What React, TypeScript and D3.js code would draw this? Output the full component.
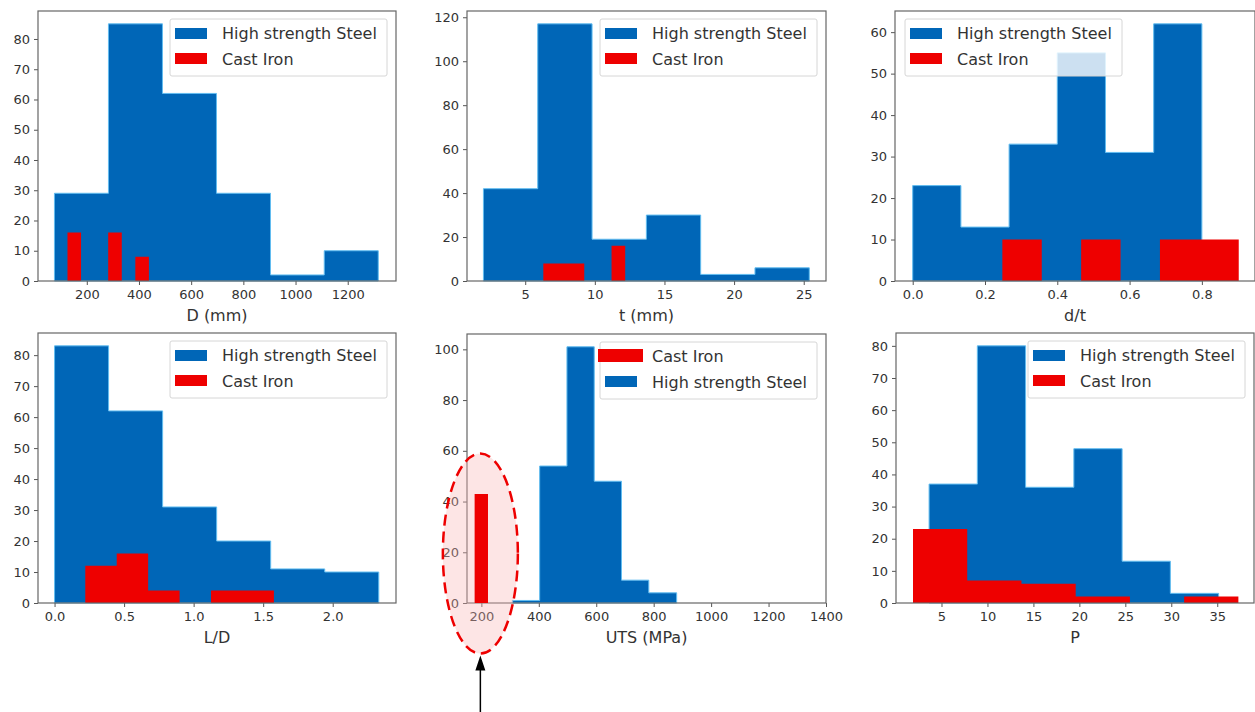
import React, { useEffect, useRef } from "react";
import * as d3 from "d3";

// D (mm)
const dSteelEdges = [76, 283, 490, 697, 904, 1110, 1317];
const dSteelCounts = [29, 85, 62, 29, 2, 10];
const dIronEdges = [126, 178, 230, 282, 334, 386, 438];
const dIronCounts = [16, 0, 0, 16, 0, 8];
const dXTicks = [200, 400, 600, 800, 1000, 1200];
const dYTicks = [0, 10, 20, 30, 40, 50, 60, 70, 80];

// t (mm)
const tSteelEdges = [2.0, 5.9, 9.8, 13.7, 17.6, 21.5, 25.4];
const tSteelCounts = [42, 117, 19, 30, 3, 6];
const tIronEdges = [6.3, 7.28, 8.26, 9.24, 10.22, 11.2, 12.18];
const tIronCounts = [8, 8, 8, 0, 0, 16];
const tXTicks = [5, 10, 15, 20, 25];
const tYTicks = [0, 20, 40, 60, 80, 100, 120];

// d/t
const dtSteelEdges = [0, 0.1333, 0.2667, 0.4, 0.5333, 0.6667, 0.8];
const dtSteelCounts = [23, 13, 33, 55, 31, 62];
const dtIronEdges = [0.248, 0.357, 0.466, 0.575, 0.684, 0.793, 0.902];
const dtIronCounts = [10, 0, 10, 0, 10, 10];
const dtXTicks = [0, 0.2, 0.4, 0.6, 0.8];
const dtYTicks = [0, 10, 20, 30, 40, 50, 60];

// L/D
const ldSteelEdges = [0, 0.3885, 0.777, 1.1655, 1.554, 1.9425, 2.331];
const ldSteelCounts = [83, 62, 31, 20, 11, 10];
const ldIronEdges = [0.221, 0.447, 0.673, 0.899, 1.125, 1.351, 1.577];
const ldIronCounts = [12, 16, 4, 0, 4, 4];
const ldXTicks = [0, 0.5, 1.0, 1.5, 2.0];
const ldYTicks = [0, 10, 20, 30, 40, 50, 60, 70, 80];

// UTS (MPa)
const utsSteelEdges = [308, 403, 498, 593, 688, 783, 880];
const utsSteelCounts = [1, 54, 101, 48, 9, 4];
const utsIronEdges = [177, 223];
const utsIronCounts = [43];
const utsXTicks = [200, 400, 600, 800, 1000, 1200, 1400];
const utsYTicks = [0, 20, 40, 60, 80, 100];

// P
const pSteelEdges = [3.65, 8.9, 14.15, 19.4, 24.65, 29.9, 35.15];
const pSteelCounts = [37, 80, 36, 48, 13, 3];
const pIronEdges = [1.9, 7.8, 13.7, 19.6, 25.5, 31.4, 37.3];
const pIronCounts = [23, 7, 6, 2, 0, 2];
const pXTicks = [5, 10, 15, 20, 25, 30, 35];
const pYTicks = [0, 10, 20, 30, 40, 50, 60, 70, 80];

const STEEL = "#0066b7";
const STEEL_EDGE = "#62bdf0";
const IRON = "#ee0000";
const TEXT = "#333";
const FONT = "DejaVu Sans, sans-serif";

const intFmt = d3.format("d");
const oneFmt = d3.format(".1f");

const panels = [
  { label: "D (mm)", box: [38, 11, 396, 281], xLim: [13, 1385], xTicks: dXTicks, yTicks: dYTicks, fmt: intFmt,
    steel: [dSteelEdges, dSteelCounts], iron: [dIronEdges, dIronCounts], legend: "right" },
  { label: "t (mm)", box: [467, 11, 826, 281], xLim: [0.82, 26.6], xTicks: tXTicks, yTicks: tYTicks, fmt: intFmt,
    steel: [tSteelEdges, tSteelCounts], iron: [tIronEdges, tIronCounts], legend: "right" },
  { label: "d/t", box: [895, 11, 1255, 281], xLim: [-0.049, 0.947], xTicks: dtXTicks, yTicks: dtYTicks, fmt: oneFmt,
    steel: [dtSteelEdges, dtSteelCounts], iron: [dtIronEdges, dtIronCounts], legend: "left" },
  { label: "L/D", box: [38, 333, 396, 603], xLim: [-0.119, 2.455], xTicks: ldXTicks, yTicks: ldYTicks, fmt: oneFmt,
    steel: [ldSteelEdges, ldSteelCounts], iron: [ldIronEdges, ldIronCounts], legend: "right" },
  { label: "UTS (MPa)", box: [467, 334, 826, 603], xLim: [150, 1400], xTicks: utsXTicks, yTicks: utsYTicks, fmt: intFmt,
    steel: [utsSteelEdges, utsSteelCounts], iron: [utsIronEdges, utsIronCounts], legend: "right", ironFirst: true },
  { label: "P", box: [896, 333, 1254, 603], xLim: [0.05, 39.0], xTicks: pXTicks, yTicks: pYTicks, fmt: intFmt,
    steel: [pSteelEdges, pSteelCounts], iron: [pIronEdges, pIronCounts], legend: "right" },
];

const App = () => {
  const svgRef = useRef<SVGSVGElement>(null);

  useEffect(() => {
    const svg = d3.select(svgRef.current);
    svg.selectAll("*").remove();

    panels.forEach((p: any) => {
      const [x0, y0, x1, y1] = p.box;
      const x = d3.scaleLinear().domain(p.xLim).range([x0, x1]);
      const yMax = (d3.max([...p.steel[1], ...p.iron[1]]) as number) * 1.05;
      const y = d3.scaleLinear().domain([0, yMax]).range([y1, y0]);
      const g = svg.append("g");

      const stepPath = (edges: number[], counts: number[]) => {
        const pts: [number, number][] = [[edges[0], 0]];
        counts.forEach((c, i) => {
          pts.push([edges[i], c]);
          pts.push([edges[i + 1], c]);
        });
        pts.push([edges[edges.length - 1], 0]);
        return d3.line<[number, number]>().x((d) => x(d[0])).y((d) => y(d[1]))(pts) + "Z";
      };

      const steel = { name: "High strength Steel", data: p.steel, fill: STEEL, stroke: STEEL_EDGE };
      const iron = { name: "Cast Iron", data: p.iron, fill: IRON, stroke: "none" };
      const order = p.ironFirst ? [iron, steel] : [steel, iron];

      order.forEach((s) => {
        g.append("path")
          .attr("d", stepPath(s.data[0], s.data[1]))
          .attr("fill", s.fill)
          .attr("stroke", s.stroke)
          .attr("stroke-width", 1);
      });

      // axes
      const xAxis = g.append("g")
        .attr("transform", `translate(0,${y1})`)
        .call(d3.axisBottom(x).tickValues(p.xTicks).tickFormat(p.fmt).tickSize(4).tickPadding(5));
      const yAxis = g.append("g")
        .attr("transform", `translate(${x0},0)`)
        .call(d3.axisLeft(y).tickValues(p.yTicks).tickFormat(intFmt).tickSize(4).tickPadding(4));
      [xAxis, yAxis].forEach((a) => {
        a.select(".domain").remove();
        a.selectAll("line").attr("stroke", "#555");
        a.selectAll("text").attr("font-size", 13).attr("font-family", FONT).attr("fill", TEXT);
      });

      g.append("rect")
        .attr("x", x0).attr("y", y0)
        .attr("width", x1 - x0).attr("height", y1 - y0)
        .attr("fill", "none").attr("stroke", "#666").attr("stroke-width", 1.2);

      g.append("text")
        .attr("x", (x0 + x1) / 2).attr("y", y1 + 40)
        .attr("text-anchor", "middle")
        .attr("font-size", 16).attr("font-family", FONT).attr("fill", TEXT)
        .text(p.label);

      // legend
      const lw = 217, lh = 57;
      const lx = p.legend === "left" ? x0 + 10 : x1 - 9 - lw;
      const ly = y0 + 8;
      const lg = g.append("g").attr("transform", `translate(${lx},${ly})`);
      lg.append("rect")
        .attr("width", lw).attr("height", lh).attr("rx", 2)
        .attr("fill", "white").attr("fill-opacity", 0.8)
        .attr("stroke", "#d6d6d6");
      order.forEach((s, i) => {
        const big = p.ironFirst && i === 0;
        lg.append("rect")
          .attr("x", big ? -2 : 5).attr("y", big ? 7 + i * 26 : 9 + i * 25)
          .attr("width", big ? 45 : 32).attr("height", big ? 13 : 11)
          .attr("fill", s.fill);
        lg.append("text")
          .attr("x", 52).attr("y", 20 + i * 26)
          .attr("font-size", 16).attr("font-family", FONT).attr("fill", TEXT)
          .text(s.name);
      });

      // highlight on the cast iron bar of the UTS panel
      if (p.ironFirst) {
        const cx = x(200) - 1;
        const cy = y(19.5);
        svg.append("ellipse")
          .attr("cx", cx).attr("cy", cy).attr("rx", 37.5).attr("ry", 100)
          .attr("fill", "#f8b4b4").attr("fill-opacity", 0.35);
        // keep the highlighted bar saturated above the tint
        svg.append("path")
          .attr("d", stepPath(iron.data[0], iron.data[1]))
          .attr("fill", IRON);
        svg.append("ellipse")
          .attr("cx", cx).attr("cy", cy).attr("rx", 37.5).attr("ry", 100)
          .attr("fill", "none")
          .attr("stroke", IRON).attr("stroke-width", 2.5)
          .attr("stroke-dasharray", "11,6");
        const tip = cy + 102;
        svg.append("line")
          .attr("x1", cx).attr("x2", cx).attr("y1", 712).attr("y2", tip + 12)
          .attr("stroke", "black").attr("stroke-width", 1.5);
        svg.append("path")
          .attr("d", `M${cx},${tip} L${cx - 5},${tip + 15} L${cx + 5},${tip + 15} Z`)
          .attr("fill", "black");
      }
    });
  }, []);

  return (
    <div style={{ position: "absolute", left: 0, top: 0 }}>
      <svg ref={svgRef} width={1255} height={712} style={{ display: "block", background: "white" }}></svg>
    </div>
  );
};

export default App;
